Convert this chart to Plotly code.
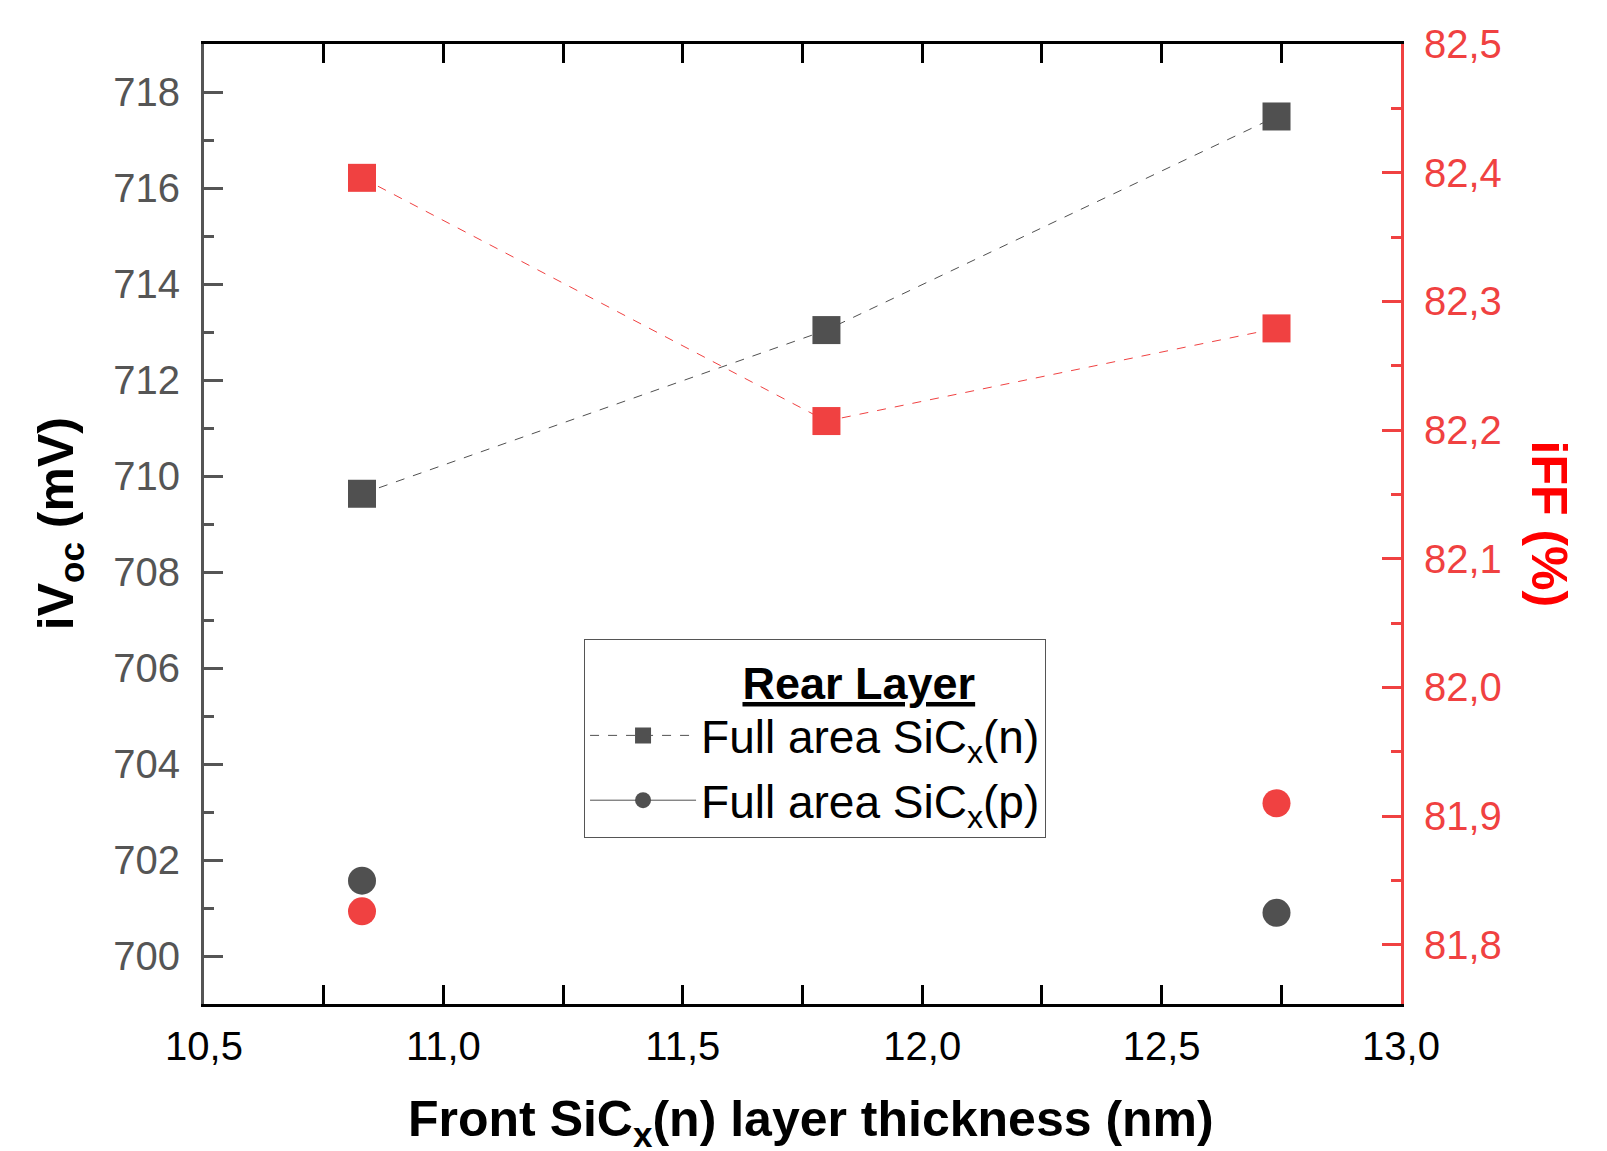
import plotly.graph_objects as go

# Data
thickness = [10.83, 11.80, 12.74]
ivoc_n = [709.63, 713.04, 717.49]
iff_n = [82.396, 82.207, 82.279]
ivoc_p = [701.57, None, 700.90]
iff_p = [81.826, None, 81.910]

GRAY = "#505050"
RED = "#F04141"
FONT = "Arial, Liberation Sans, sans-serif"

fig = go.Figure()

# iVoc series (left axis)
fig.add_trace(go.Scatter(
    x=thickness, y=ivoc_n, mode="lines+markers", name="Full area SiC<sub>x</sub>(n)",
    line=dict(color=GRAY, width=1, dash="dash"),
    marker=dict(symbol="square", size=28, color=GRAY, line=dict(width=0)),
    legendgroup="n", yaxis="y"))
fig.add_trace(go.Scatter(
    x=thickness, y=ivoc_p, mode="lines+markers", name="Full area SiC<sub>x</sub>(p)",
    connectgaps=False,
    line=dict(color=GRAY, width=1),
    marker=dict(symbol="circle", size=28, color=GRAY, line=dict(width=0)),
    legendgroup="p", yaxis="y"))

# iFF series (right axis)
fig.add_trace(go.Scatter(
    x=thickness, y=iff_n, mode="lines+markers", showlegend=False,
    line=dict(color=RED, width=1, dash="dash"),
    marker=dict(symbol="square", size=28, color=RED, line=dict(width=0)),
    yaxis="y2"))
fig.add_trace(go.Scatter(
    x=thickness, y=iff_p, mode="markers", showlegend=False,
    marker=dict(symbol="circle", size=28, color=RED, line=dict(width=0)),
    yaxis="y2"))

fig.update_layout(
    width=1607, height=1151,
    margin=dict(l=204, r=206, t=44, b=147),
    paper_bgcolor="white", plot_bgcolor="white",
    separators=",.",
    font=dict(family=FONT, size=40, color="black"),
    showlegend=True,
    xaxis=dict(
        range=[10.5, 13.0], dtick=0.5, tick0=10.5, tickformat=".1f",
        showgrid=False, zeroline=False,
        showline=True, linecolor="black", linewidth=3, mirror="allticks",
        ticks="inside", ticklen=19, tickwidth=3, tickcolor="black",
        minor=dict(dtick=0.25, ticks="inside", ticklen=10, tickwidth=3, tickcolor="black"),
        tickfont=dict(size=40, color="black"),
        ticklabelstandoff=5,
    ),
    yaxis=dict(
        range=[699, 719], dtick=2, tick0=700,
        showgrid=False, zeroline=False,
        showline=True, linecolor="#555555", linewidth=3,
        ticks="inside", ticklen=19, tickwidth=3, tickcolor="#555555",
        minor=dict(dtick=1, ticks="inside", ticklen=10, tickwidth=3, tickcolor="#555555"),
        tickfont=dict(size=40, color="#555555"),
        ticklabelstandoff=13,
    ),
    yaxis2=dict(
        range=[81.754, 82.5], dtick=0.1, tick0=81.8, tickformat=".1f",
        overlaying="y", side="right",
        showgrid=False, zeroline=False,
        showline=True, linecolor=RED, linewidth=3,
        ticks="inside", ticklen=19, tickwidth=3, tickcolor=RED,
        minor=dict(dtick=0.05, ticks="inside", ticklen=10, tickwidth=3, tickcolor=RED),
        tickfont=dict(size=40, color=RED),
        ticklabelstandoff=12,
    ),
    legend=dict(
        x=0.3175, y=0.3797, xanchor="left", yanchor="top",
        bgcolor="white", bordercolor="#555555", borderwidth=1,
        font=dict(size=46, color="black", family=FONT),
        title=dict(text="&nbsp;&nbsp;&nbsp;&nbsp;&nbsp;&nbsp;&nbsp;<b><u>Rear Layer</u></b>",
                   side="top center",
                   font=dict(size=45, color="black", family=FONT)),
        itemwidth=106, tracegroupgap=2,
    ),
    annotations=[
        dict(text="<b>Front SiC<sub>x</sub>(n) layer thickness (nm)</b>",
             xref="paper", yref="paper", x=0.507, y=-0.123, xanchor="center", yanchor="middle",
             showarrow=False, font=dict(size=50, color="black", family=FONT)),
        dict(text="<b>iV<sub>oc</sub> (mV)</b>", textangle=-90,
             xref="paper", yref="paper", x=-0.121, y=0.5, xanchor="center", yanchor="middle",
             showarrow=False, font=dict(size=50, color="black", family=FONT)),
        dict(text="<b>iFF (%)</b>", textangle=90,
             xref="paper", yref="paper", x=1.124, y=0.5, xanchor="center", yanchor="middle",
             showarrow=False, font=dict(size=50, color="#FF0000", family=FONT)),
    ],
)

fig.write_html("out.html", config={"displayModeBar": False},
               post_script="document.body.style.margin='0';")
